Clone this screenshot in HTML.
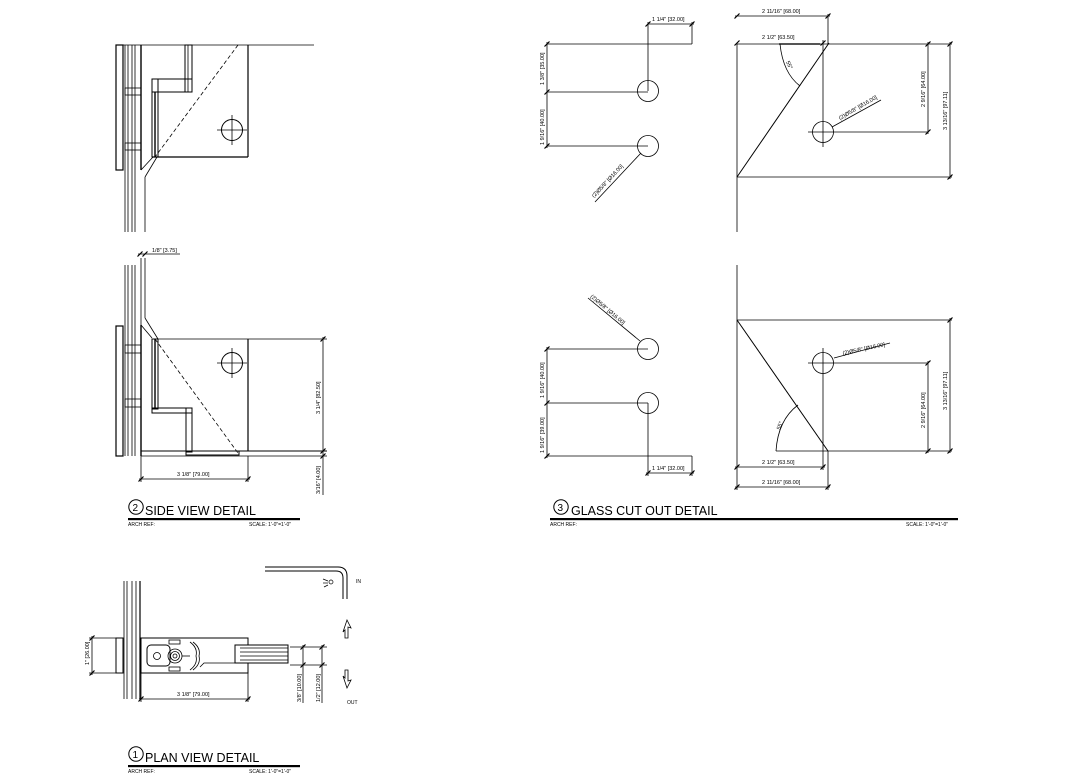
<!DOCTYPE html>
<html><head><meta charset="utf-8"><style>
html,body{margin:0;padding:0;background:#fff;}
svg{display:block;}
text{font-family:"Liberation Sans",sans-serif;fill:#000;stroke:none;}
.d{font-size:5.5px;}
.t{font-size:12.5px;}
.s{font-size:5px;}
</style></head><body>
<svg width="1067" height="783" viewBox="0 0 1067 783" xmlns="http://www.w3.org/2000/svg" stroke="#000" fill="none" stroke-width="0.8">
<defs>
<g id="tk"><line x1="-2.5" y1="2.5" x2="2.5" y2="-2.5" stroke-width="1.2"/></g>
</defs>

<!-- ============ TOP-LEFT DETAIL ============ -->
<line x1="116" y1="45" x2="314" y2="45"/>
<rect x="116" y="45" width="7" height="125" stroke-width="1.2"/>
<g>
<line x1="125" y1="45" x2="125" y2="232"/><line x1="128" y1="45" x2="128" y2="232"/>
<line x1="132" y1="45" x2="132" y2="232"/><line x1="135" y1="45" x2="135" y2="232"/>
<line x1="141" y1="45" x2="141" y2="170" stroke-width="1.4"/>
<line x1="141" y1="170" x2="153" y2="157"/>
<line x1="145" y1="177" x2="157" y2="157"/>
<line x1="145" y1="177" x2="145" y2="232"/>
<rect x="125" y="88" width="16" height="7"/><rect x="125" y="143" width="16" height="7"/>
</g>
<line x1="248" y1="45" x2="248" y2="157" stroke-width="1.2"/>
<line x1="152" y1="157" x2="248" y2="157" stroke-width="1.2"/>
<rect x="185" y="45" width="7" height="47" stroke-width="1"/>
<line x1="188" y1="45" x2="188" y2="92"/>
<rect x="152" y="79" width="40" height="13" stroke-width="1"/>
<line x1="158" y1="79" x2="158" y2="92"/>
<rect x="152" y="79" width="6" height="78" stroke-width="1"/>
<line x1="155" y1="92" x2="155" y2="157" stroke-width="1.4"/>
<line x1="238" y1="45" x2="155" y2="157" stroke-dasharray="4 2.5"/>
<circle cx="232" cy="130" r="10.5" stroke-width="1"/>
<line x1="217" y1="130" x2="247" y2="130"/><line x1="232" y1="115" x2="232" y2="145"/>

<!-- ============ SIDE VIEW ============ -->
<text class="d" x="152" y="252">1/8" [3.75]</text>
<line x1="138" y1="254" x2="180" y2="254"/>
<use href="#tk" x="140" y="254"/><use href="#tk" x="145" y="254"/>
<line x1="125" y1="265" x2="125" y2="456"/><line x1="128" y1="265" x2="128" y2="456"/>
<line x1="132" y1="265" x2="132" y2="456"/><line x1="135" y1="265" x2="135" y2="456"/>
<line x1="141" y1="258" x2="141" y2="325"/>
<line x1="145" y1="258" x2="145" y2="318"/>
<line x1="145" y1="318" x2="158" y2="339"/>
<line x1="141" y1="325" x2="152" y2="338"/>
<line x1="141" y1="325" x2="141" y2="456" stroke-width="1.4"/>
<rect x="116" y="326" width="7" height="130" stroke-width="1.2"/>
<rect x="125" y="345" width="16" height="8"/><rect x="125" y="399" width="16" height="8"/>
<line x1="152" y1="339" x2="327" y2="339"/>
<line x1="248" y1="339" x2="248" y2="451" stroke-width="1.2"/>
<line x1="141" y1="451" x2="327" y2="451" stroke-width="1.1"/>
<line x1="141" y1="456" x2="327" y2="456"/>
<rect x="152" y="339" width="6" height="70" stroke-width="1"/>
<line x1="155" y1="339" x2="155" y2="409" stroke-width="1.4"/>
<rect x="152" y="408" width="40" height="5" stroke-width="1"/>
<rect x="186" y="408" width="6" height="44" stroke-width="1"/>
<rect x="186" y="451" width="53" height="4" stroke-width="1"/>
<line x1="155" y1="339" x2="238" y2="453" stroke-dasharray="4 2.5"/>
<circle cx="232" cy="363" r="10.5" stroke-width="1"/>
<line x1="217" y1="363" x2="247" y2="363"/><line x1="232" y1="348" x2="232" y2="378"/>
<line x1="323" y1="337" x2="323" y2="495"/>
<use href="#tk" x="323" y="339"/><use href="#tk" x="323" y="451"/><use href="#tk" x="323" y="456"/>
<text class="d" transform="translate(320,414) rotate(-90)">3 1/4" [82.50]</text>
<text class="d" transform="translate(320,494) rotate(-90)">3/16" [4.00]</text>
<line x1="141" y1="456" x2="141" y2="482"/><line x1="248" y1="456" x2="248" y2="482"/>
<line x1="139" y1="479" x2="250" y2="479"/>
<use href="#tk" x="141" y="479"/><use href="#tk" x="248" y="479"/>
<text class="d" x="177" y="476">3 1/8" [79.00]</text>
<circle cx="136" cy="507" r="7.2" stroke-width="1"/>
<text x="132.5" y="511" style="font-size:10px">2</text>
<text class="t" x="145" y="515">SIDE VIEW DETAIL</text>
<rect x="128" y="518" width="172" height="2.2" fill="#000" stroke="none"/>
<text class="s" x="128" y="526">ARCH REF:</text>
<text class="s" x="249" y="526">SCALE: 1'-0"=1'-0"</text>

<!-- ============ PLAN VIEW ============ -->
<line x1="124" y1="581" x2="124" y2="699"/><line x1="127" y1="581" x2="127" y2="699"/>
<line x1="132" y1="581" x2="132" y2="699"/><line x1="136" y1="581" x2="136" y2="699"/>
<line x1="140" y1="581" x2="140" y2="699" stroke-width="1.2"/>
<rect x="116" y="638" width="7" height="35" stroke-width="1"/>
<line x1="89" y1="638" x2="116" y2="638"/><line x1="89" y1="673" x2="116" y2="673"/>
<line x1="92" y1="636" x2="92" y2="675"/>
<use href="#tk" x="92" y="638"/><use href="#tk" x="92" y="673"/>
<text class="d" transform="translate(89,665) rotate(-90)">1" [26.00]</text>
<rect x="141" y="638" width="107" height="35" stroke-width="1"/>
<rect x="147" y="645" width="23" height="21" rx="4" stroke-width="1"/>
<circle cx="157" cy="656" r="3.5"/>
<circle cx="175" cy="656" r="7"/><circle cx="175" cy="656" r="4.5"/><circle cx="175" cy="656" r="2"/>
<rect x="169" y="640" width="11" height="4"/><rect x="169" y="667" width="11" height="4"/>
<path d="M190 642 q8 6 6 14 q2 8 -6 14"/><path d="M193 642 q8 6 6 14 q2 8 -6 14"/>
<line x1="182" y1="656" x2="190" y2="656"/>
<polyline points="200,667 204,663 248,663"/>
<rect x="235" y="645" width="53" height="18" fill="#fff" stroke-width="1"/>
<line x1="240" y1="648" x2="288" y2="648"/><line x1="240" y1="652" x2="288" y2="652"/><line x1="240" y1="656" x2="288" y2="656"/><line x1="240" y1="660" x2="288" y2="660"/>
<line x1="141" y1="673" x2="141" y2="702"/><line x1="248" y1="673" x2="248" y2="702"/>
<line x1="139" y1="699" x2="250" y2="699"/>
<use href="#tk" x="141" y="699"/><use href="#tk" x="248" y="699"/>
<text class="d" x="177" y="696">3 1/8" [79.00]</text>
<line x1="290" y1="647" x2="327" y2="647"/><line x1="290" y1="665" x2="327" y2="665"/>
<line x1="303" y1="645" x2="303" y2="703"/><line x1="322" y1="645" x2="322" y2="703"/>
<use href="#tk" x="303" y="647"/><use href="#tk" x="303" y="665"/><use href="#tk" x="322" y="647"/><use href="#tk" x="322" y="665"/>
<text class="d" transform="translate(301,702) rotate(-90)">3/8" [10.00]</text>
<text class="d" transform="translate(320,702) rotate(-90)">1/2" [12.00]</text>
<path d="M265 567 H338 Q347 567 347 576 V599" stroke-width="1"/>
<path d="M265 571 H336 Q343 571 343 578 V599" stroke-width="1"/>
<text class="s" x="356" y="583">IN</text>
<text class="s" x="347" y="704">OUT</text>
<g stroke-width="0.7"><circle cx="331" cy="582" r="2"/><line x1="323" y1="579" x2="328" y2="581"/><line x1="323" y1="583" x2="328" y2="583"/><line x1="324" y1="587" x2="328" y2="585"/></g>
<path d="M343 632 L347 620 L351 628 L348 627 L348 638 L345 638 L345 630 Z"/>
<path d="M343 676 L347 688 L351 680 L348 681 L348 670 L345 670 L345 678 Z"/>
<circle cx="136" cy="754" r="7.2" stroke-width="1"/>
<text x="132.5" y="758" style="font-size:10px">1</text>
<text class="t" x="145" y="762">PLAN VIEW DETAIL</text>
<rect x="128" y="765" width="172" height="2.2" fill="#000" stroke="none"/>
<text class="s" x="128" y="773">ARCH REF:</text>
<text class="s" x="249" y="773">SCALE: 1'-0"=1'-0"</text>

<!-- ============ GLASS CUT OUT (top) ============ -->
<line x1="547" y1="44" x2="692" y2="44"/>
<line x1="547" y1="42" x2="547" y2="148"/>
<use href="#tk" x="547" y="44"/><use href="#tk" x="547" y="92"/><use href="#tk" x="547" y="146"/>
<line x1="547" y1="92" x2="648" y2="92"/><line x1="547" y1="146" x2="648" y2="146"/>
<circle cx="648" cy="91" r="10.5"/><circle cx="648" cy="146" r="10.5"/>
<line x1="648" y1="91" x2="648" y2="22"/>
<line x1="648" y1="24" x2="694" y2="24"/><line x1="692" y1="22" x2="692" y2="44"/>
<use href="#tk" x="648" y="24"/><use href="#tk" x="692" y="24"/>
<text class="d" x="652" y="21">1 1/4" [32.00]</text>
<text class="d" transform="translate(544,85) rotate(-90)">1 3/8" [35.00]</text>
<text class="d" transform="translate(544,145) rotate(-90)">1 9/16" [40.00]</text>
<line x1="595" y1="202" x2="641" y2="153"/>
<text class="d" transform="translate(594,198) rotate(-47)">(2)Ø5/8" [Ø16.00]</text>

<line x1="737" y1="44" x2="737" y2="232"/>
<line x1="737" y1="44" x2="952" y2="44"/>
<line x1="737" y1="177" x2="952" y2="177"/>
<line x1="737" y1="177" x2="829" y2="43" stroke-width="1"/>
<line x1="828" y1="14" x2="828" y2="44"/>
<line x1="735" y1="16" x2="830" y2="16"/>
<use href="#tk" x="737" y="16"/><use href="#tk" x="828" y="16"/>
<text class="d" x="762" y="13">2 11/16" [68.00]</text>
<use href="#tk" x="737" y="43"/><use href="#tk" x="823" y="43"/>
<line x1="779" y1="44" x2="820" y2="44" stroke-width="2" stroke="#555"/>
<text class="d" x="762" y="39">2 1/2" [63.50]</text>
<line x1="823" y1="40" x2="823" y2="147"/>
<circle cx="823" cy="132" r="10.5"/>
<line x1="808" y1="132" x2="928" y2="132"/>
<line x1="928" y1="42" x2="928" y2="134"/>
<use href="#tk" x="928" y="44"/><use href="#tk" x="928" y="132"/>
<text class="d" transform="translate(925,107) rotate(-90)">2 9/16" [64.00]</text>
<line x1="950" y1="42" x2="950" y2="179"/>
<use href="#tk" x="950" y="44"/><use href="#tk" x="950" y="177"/>
<text class="d" transform="translate(947,130) rotate(-90)">3 13/16" [97.11]</text>
<path d="M780 44 Q783 73 800 86"/>
<text class="d" transform="translate(786,62) rotate(65)">55°</text>
<line x1="881" y1="100" x2="832" y2="127"/>
<text class="d" transform="translate(840,120) rotate(-30)">(2)Ø5/8" [Ø16.00]</text>

<!-- ============ GLASS CUT OUT (bottom) ============ -->
<circle cx="648" cy="349" r="10.5"/><circle cx="648" cy="403" r="10.5"/>
<line x1="547" y1="349" x2="648" y2="349"/><line x1="547" y1="403" x2="648" y2="403"/>
<line x1="547" y1="456" x2="692" y2="456"/>
<line x1="547" y1="347" x2="547" y2="458"/>
<use href="#tk" x="547" y="349"/><use href="#tk" x="547" y="403"/><use href="#tk" x="547" y="456"/>
<text class="d" transform="translate(544,398) rotate(-90)">1 9/16" [40.00]</text>
<text class="d" transform="translate(544,453) rotate(-90)">1 9/16" [39.00]</text>
<line x1="648" y1="403" x2="648" y2="476"/>
<line x1="646" y1="473" x2="694" y2="473"/><line x1="692" y1="456" x2="692" y2="476"/>
<use href="#tk" x="648" y="473"/><use href="#tk" x="692" y="473"/>
<text class="d" x="652" y="470">1 1/4" [32.00]</text>
<line x1="588" y1="298" x2="640" y2="341"/>
<text class="d" transform="translate(590,297) rotate(40)">(2)Ø5/8" [Ø16.00]</text>

<line x1="737" y1="265" x2="737" y2="490"/>
<line x1="737" y1="320" x2="952" y2="320"/>
<line x1="737" y1="320" x2="828" y2="451" stroke-width="1"/>
<line x1="776" y1="451" x2="952" y2="451"/>
<circle cx="823" cy="363" r="10.5"/>
<line x1="808" y1="363" x2="928" y2="363"/>
<line x1="823" y1="348" x2="823" y2="470"/>
<line x1="928" y1="361" x2="928" y2="453"/>
<use href="#tk" x="928" y="363"/><use href="#tk" x="928" y="451"/>
<text class="d" transform="translate(925,428) rotate(-90)">2 9/16" [64.00]</text>
<line x1="950" y1="318" x2="950" y2="453"/>
<use href="#tk" x="950" y="320"/><use href="#tk" x="950" y="451"/>
<text class="d" transform="translate(947,410) rotate(-90)">3 13/16" [97.11]</text>
<line x1="735" y1="467" x2="825" y2="467"/>
<use href="#tk" x="737" y="467"/><use href="#tk" x="823" y="467"/>
<text class="d" x="762" y="464">2 1/2" [63.50]</text>
<line x1="828" y1="451" x2="828" y2="490"/>
<line x1="735" y1="487" x2="830" y2="487"/>
<use href="#tk" x="737" y="487"/><use href="#tk" x="828" y="487"/>
<text class="d" x="762" y="484">2 11/16" [68.00]</text>
<path d="M776 451 Q778 420 798 405"/>
<text class="d" transform="translate(780,430) rotate(-70)">55°</text>
<line x1="890" y1="343" x2="834" y2="358"/>
<text class="d" transform="translate(843,355) rotate(-12)">(2)Ø5/8" [Ø16.00]</text>

<circle cx="561" cy="507" r="7.2" stroke-width="1"/>
<text x="557.5" y="511" style="font-size:10px">3</text>
<text class="t" x="571" y="515">GLASS CUT OUT DETAIL</text>
<rect x="550" y="518" width="408" height="2.2" fill="#000" stroke="none"/>
<text class="s" x="550" y="526">ARCH REF:</text>
<text class="s" x="906" y="526">SCALE: 1'-0"=1'-0"</text>
</svg>
</body></html>
